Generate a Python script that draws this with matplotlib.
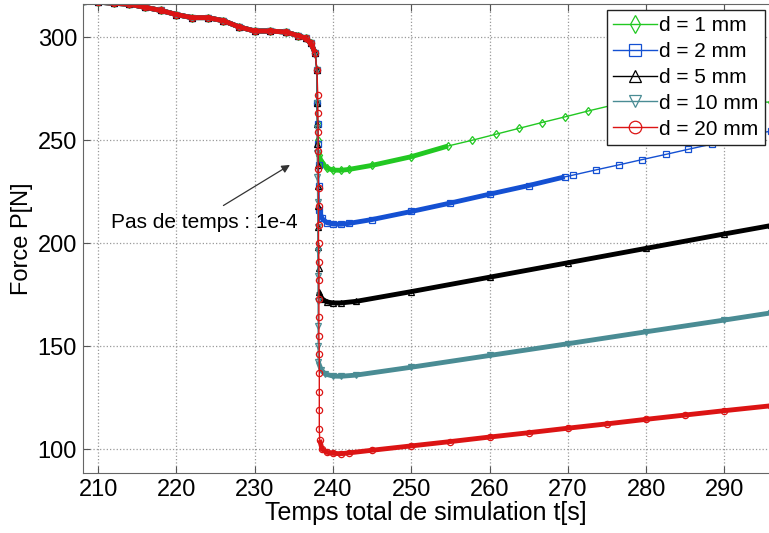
import numpy as np
import matplotlib
matplotlib.use("Agg")
import matplotlib.pyplot as plt

plt.rcParams['font.family'] = ['Liberation Sans', 'DejaVu Sans']

# partie commune avant la chute (toutes les courbes)
t_common = [208.0, 210.0, 212.0, 214.0, 216.0, 218.0, 220.0, 222.0, 224.0, 226.0, 228.0,
            230.0, 232.0, 234.0, 235.5, 236.5, 237.2, 237.7, 237.95]
F_common = [317.5, 317.0, 316.5, 316.0, 314.5, 313.0, 311.0, 309.5, 309.5, 308.0, 305.0,
            303.0, 303.0, 302.5, 300.8, 299.5, 297.0, 292.5, 284.0]

# d = 1 mm
t_d1 = [238.0, 238.05, 238.1, 238.15, 238.6, 239.2, 240.0, 241.0, 242.0, 245.0, 250.0, 254.7,
        257.8, 260.8, 263.7, 266.7, 269.7, 272.6, 275.7, 278.7, 281.6, 284.6, 287.6, 290.6, 293.6, 296.0]
F_d1 = [268.0, 258.0, 250.0, 243.0, 239.0, 236.5, 235.5, 235.4, 235.8, 237.8, 242.0, 247.2,
        250.0, 252.9, 255.7, 258.6, 261.4, 264.2, 267.0, 268.0, 268.2, 268.3, 268.4, 268.5, 268.5, 268.5]
# d = 2 mm
t_d2 = [238.0, 238.05, 238.1, 238.15, 238.2, 238.25, 238.6, 239.2, 240.0, 241.0, 242.0, 245.0, 250.0,
        255.0, 260.0, 265.0, 269.6, 270.7, 273.6, 276.6, 279.5, 282.5, 285.4, 288.4, 291.3, 294.3, 296.0]
F_d2 = [268.0, 258.0, 248.0, 238.0, 228.0, 216.2, 212.0, 210.0, 209.3, 209.2, 209.6, 211.5, 215.4,
        219.5, 223.8, 228.0, 232.2, 233.1, 235.6, 238.1, 240.6, 243.1, 245.6, 248.1, 250.6, 253.2, 254.5]
# d = 5 mm
t_d5 = [237.95, 238.0, 238.0, 238.05, 238.05, 238.1, 238.1, 238.1, 238.15, 238.15, 238.6, 239.2,
        240.0, 241.0, 243.0, 250.0, 260.0, 270.0, 280.0, 290.0, 296.0]
F_d5 = [268.0, 258.0, 248.0, 238.0, 228.0, 218.0, 208.0, 198.0, 188.0, 176.5, 173.0, 171.5,
        171.0, 171.0, 171.8, 176.5, 183.5, 190.5, 197.5, 204.5, 208.6]
# d = 10 mm
t_d10 = [237.95, 238.0, 238.0, 238.0, 238.05, 238.05, 238.05, 238.1, 238.1, 238.1, 238.1, 238.1,
         238.5, 239.0, 240.0, 241.0, 243.0, 250.0, 260.0, 270.0, 280.0, 290.0, 296.0]
F_d10 = [268.0, 256.0, 244.0, 232.0, 220.0, 208.0, 196.0, 184.0, 172.0, 160.0, 150.0, 142.5,
         138.5, 136.5, 135.5, 135.4, 136.0, 139.8, 145.5, 151.2, 157.0, 162.7, 166.2]
# d = 20 mm
t_d20 = [238.05, 238.05, 238.1, 238.1, 238.1, 238.15, 238.15, 238.15, 238.15, 238.2, 238.2,
         238.2, 238.2, 238.2, 238.25, 238.25, 238.25, 238.25, 238.25, 238.3,
         238.6, 239.2, 240.0, 241.0, 242.0, 245.0, 250.0, 255.0, 260.0, 265.0, 270.0, 275.0,
         280.0, 285.0, 290.0, 296.0]
F_d20 = [272.0, 263.0, 254.0, 245.0, 236.0, 227.0, 218.0, 209.0, 200.0, 191.0, 182.0,
         173.0, 164.0, 155.0, 146.0, 137.0, 128.0, 119.0, 110.0, 104.5,
         100.0, 98.5, 98.0, 97.8, 98.2, 99.5, 101.6, 103.7, 105.9, 108.0, 110.2, 112.3,
         114.5, 116.6, 118.7, 121.1]

labels = ["d = 1 mm", "d = 2 mm", "d = 5 mm", "d = 10 mm", "d = 20 mm"]
series = [(t_d1, F_d1), (t_d2, F_d2), (t_d5, F_d5), (t_d10, F_d10), (t_d20, F_d20)]
colors = ["#22c822", "#1450d2", "#000000", "#4a8c94", "#dc1414"]
markers = ["d", "s", "^", "v", "o"]
dense_end = [254.7, 269.6, 300, 300, 300]   # au-dela: points espaces

fig = plt.figure(figsize=(7.69, 5.33), dpi=100)
ax = fig.add_axes([0.1073, 0.112, 0.8927, 0.880])

tc = np.array(t_common); Fc = np.array(F_common)
for (t, F), c, m, lab, te in zip(series, colors, markers, labels, dense_end):
    t = np.array(t); F = np.array(F)
    tt = np.concatenate([tc, t]); FF = np.concatenate([Fc, F])
    ax.plot(tt, FF, "-", color=c, lw=1, marker=m, ms=4.5, mfc="none", mew=0.9, label=lab)
    # bande epaisse = marqueurs tres serres
    sel = tc <= 237.7
    ax.plot(tc[sel], Fc[sel], "-", color=c, lw=3.5, solid_capstyle="butt")
    k = np.argmax(t >= 238.5) - 1
    sel = t[k:] <= te
    ax.plot(t[k:][sel], F[k:][sel], "-", color=c, lw=3.5, solid_capstyle="butt")

ax.text(211.6, 207.5, "Pas de temps : 1e-4", fontsize=15, va="baseline", ha="left")
ax.annotate("", xy=(234.5, 238), xytext=(226.0, 218.3),
            arrowprops=dict(arrowstyle="-|>", color="#333333", lw=0.9,
                            mutation_scale=12, shrinkA=0, shrinkB=0))

ax.set_xlim(208.0, 295.7)
ax.set_ylim(88.3, 316)
ax.set_xticks(np.arange(210, 291, 10))
ax.set_yticks(np.arange(100, 301, 50))
ax.grid(True, linestyle=":", color="#999999", lw=0.9)
ax.tick_params(direction="in", top=True, right=False, labelsize=17, length=5,
               color="#555555", pad=4)
for s in ["left", "bottom", "top"]:
    ax.spines[s].set_color("#666666")
ax.spines["right"].set_visible(False)
ax.set_xlabel("Temps total de simulation t[s]", fontsize=18, labelpad=0)
ax.set_ylabel("Force P[N]", fontsize=17, labelpad=3)

leg = ax.legend(loc="upper right", bbox_to_anchor=(0.994, 0.988), borderaxespad=0,
                fontsize=15, handlelength=2.1, handletextpad=0.1, labelspacing=0.33,
                markerscale=2.0, fancybox=False, framealpha=1, edgecolor="#222222",
                borderpad=0.3)
leg.get_frame().set_linewidth(1.0)

fig.savefig("out.png", dpi=100)
